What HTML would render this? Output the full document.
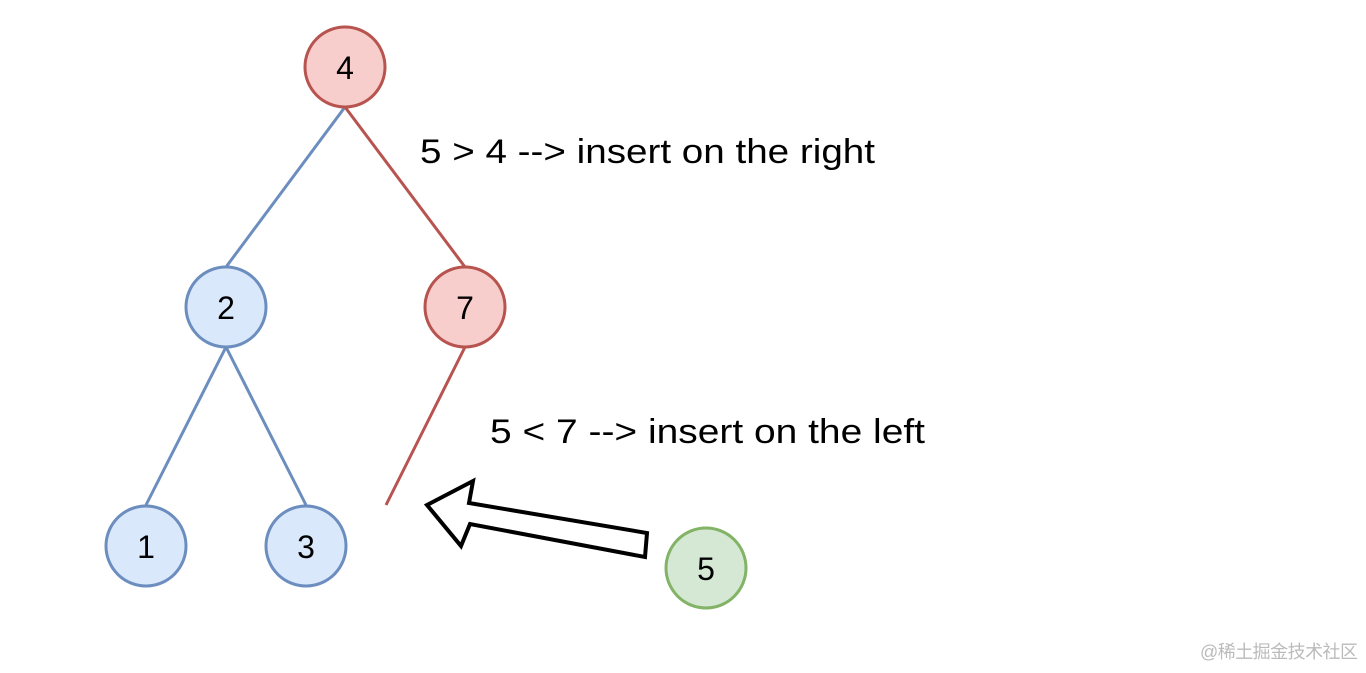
<!DOCTYPE html>
<html><head><style>body{margin:0;background:#fff}</style></head><body>
<svg width="1366" height="668" xmlns="http://www.w3.org/2000/svg" font-family="Liberation Sans, sans-serif">
<g stroke-width="3" fill="none">
<line x1="345" y1="107" x2="226" y2="267" stroke="#6c8ebf"/>
<line x1="345" y1="107" x2="465" y2="267" stroke="#b85450"/>
<line x1="226" y1="347" x2="146" y2="505" stroke="#6c8ebf"/>
<line x1="226" y1="347" x2="306" y2="505" stroke="#6c8ebf"/>
<line x1="465" y1="347" x2="386" y2="505" stroke="#b85450"/>
</g>
<g stroke-width="3">
<circle cx="345" cy="67" r="40" fill="#f8cecc" stroke="#b85450"/>
<circle cx="226" cy="307" r="40" fill="#dae8fc" stroke="#6c8ebf"/>
<circle cx="465" cy="307" r="40" fill="#f8cecc" stroke="#b85450"/>
<circle cx="146" cy="546" r="40" fill="#dae8fc" stroke="#6c8ebf"/>
<circle cx="306" cy="546" r="40" fill="#dae8fc" stroke="#6c8ebf"/>
<circle cx="706" cy="568" r="40" fill="#d5e8d4" stroke="#82b366"/>
</g>
<polygon points="427,505 473,481 469,503 647,533 645,557 470,524 461,546" fill="#fff" stroke="#000" stroke-width="4" stroke-linejoin="miter"/>
<g font-size="32" text-anchor="middle" fill="#000">
<text x="345" y="79">4</text><text x="226" y="319">2</text><text x="465" y="319">7</text>
<text x="146" y="558">1</text><text x="306" y="558">3</text><text x="706" y="580">5</text>
</g>
<text x="420" y="163" font-size="34" textLength="455" lengthAdjust="spacingAndGlyphs">5 &gt; 4 --&gt; insert on the right</text>
<text x="490" y="443" font-size="34" textLength="435" lengthAdjust="spacingAndGlyphs">5 &lt; 7 --&gt; insert on the left</text>
<text x="1200" y="658" font-size="18" fill="#bbb" font-family="Liberation Sans, Noto Sans CJK SC, sans-serif" textLength="158">@稀土掘金技术社区</text>
</svg>
</body></html>
